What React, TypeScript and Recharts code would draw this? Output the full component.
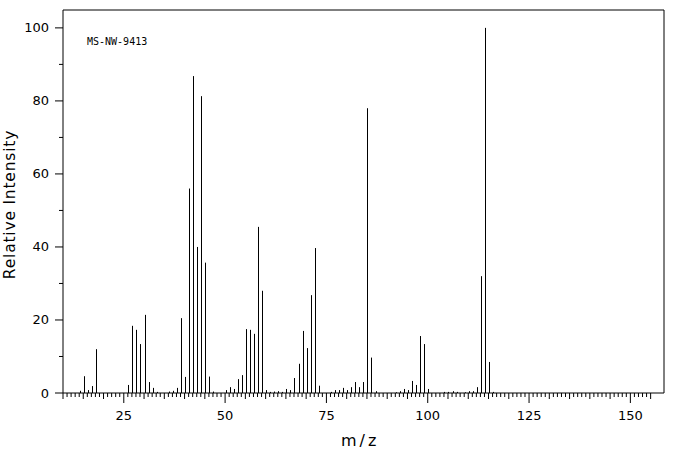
import React from 'react';
import { BarChart, Bar, XAxis, YAxis, ReferenceLine, Label } from 'recharts';

// m/z values and relative intensities
const MZ = [
  14, 15, 16, 17, 18, 26, 27, 28, 29, 30, 31, 32, 33, 36, 37, 38, 39, 40,
  41, 42, 43, 44, 45, 46, 47, 50, 51, 52, 53, 54, 55, 56, 57, 58, 59, 60,
  61, 62, 63, 64, 65, 66, 67, 68, 69, 70, 71, 72, 73, 76, 77, 78, 79, 80,
  81, 82, 83, 84, 85, 86, 87, 92, 93, 94, 95, 96, 97, 98, 99, 100, 104, 105,
  106, 107, 109, 110, 111, 112, 113, 114, 115, 116,
];
const INTENSITY = [
  0.6, 4.6, 0.8, 1.9, 12, 2.2, 18.4, 17.3, 13.4, 21.4, 3, 1.4, 0.3, 0.4, 0.6, 1.4, 20.5, 4.4,
  56, 86.8, 40, 81.3, 35.7, 4.5, 0.4, 0.8, 1.6, 1.1, 3.8, 4.9, 17.5, 17.3, 16.2, 45.5, 28, 0.8,
  0.3, 0.4, 0.5, 0.3, 1.1, 0.8, 4.1, 8, 17, 12.3, 26.8, 39.7, 2, 0.3, 0.8, 0.8, 1.4, 0.8,
  1.6, 3, 1.6, 3, 78, 9.7, 0.5, 0.2, 0.5, 1.1, 0.8, 3.3, 2.2, 15.6, 13.4, 1.1, 0.3, 0.3,
  0.5, 0.3, 0.2, 0.5, 0.5, 1.6, 32, 100, 8.5, 0.3,
];

const X_MIN = 10;
const X_MAX = 158.3;
const Y_MIN = 0;
const Y_MAX = 104.9;

const X_TICKS: number[] = [];
for (let v = 10; v <= 155; v++) X_TICKS.push(v);
const Y_TICKS = [0, 10, 20, 30, 40, 50, 60, 70, 80, 90, 100];

const TITLE = 'MS-NW-9413';
const X_LABEL = 'm/z';
const Y_LABEL = 'Relative Intensity';

const data = MZ.map((m, i) => ({ mz: m, intensity: INTENSITY[i] }));

const FONT = '"DejaVu Sans", sans-serif';

const XTick = (props: any) => {
  const { x, y, payload } = props;
  const v = payload.value;
  const len = v % 25 === 0 ? 10 : v % 5 === 0 ? 6 : 4;
  return (
    <g>
      <line x1={x} x2={x} y1={y} y2={y + len} stroke="#000" strokeWidth={1} />
      {v % 25 === 0 && (
        <text x={x} y={y + 26.5} textAnchor="middle" fontSize={13} fontFamily={FONT} fill="#000">
          {v}
        </text>
      )}
    </g>
  );
};

const YTick = (props: any) => {
  const { x, y, payload } = props;
  const v = payload.value;
  const major = v % 20 === 0;
  return (
    <g>
      <line x1={x - (major ? 8 : 4)} x2={x} y1={y} y2={y} stroke="#000" strokeWidth={1} />
      {major && (
        <text x={x - 14} y={y + 4.5} textAnchor="end" fontSize={13} fontFamily={FONT} fill="#000">
          {v}
        </text>
      )}
    </g>
  );
};

const Stick = (props: any) => {
  const { x, y, width, height } = props;
  if (x == null || y == null) return null;
  const cx = Math.round(x + width / 2) + 0.5;
  return <line x1={cx} x2={cx} y1={y} y2={y + height} stroke="#000" strokeWidth={1} />;
};

export default function App() {
  return (
    <div style={{ position: 'absolute', left: 0, top: 0, background: '#fff' }}>
      <BarChart
        width={676}
        height={455}
        data={data}
        margin={{ top: 10, right: 12, bottom: 0, left: 0 }}
      >
        <XAxis
          dataKey="mz"
          type="number"
          domain={[X_MIN, X_MAX]}
          ticks={X_TICKS}
          interval={0}
          tick={<XTick />}
          tickLine={false}
          tickSize={0}
          tickMargin={0}
          height={62}
          axisLine={{ stroke: '#000', strokeWidth: 1 }}
        >
          <Label
            content={() => (
              <text x={341} y={446} fontSize={16} fontFamily={FONT} letterSpacing={3} fill="#000">
                {X_LABEL}
              </text>
            )}
          />
        </XAxis>
        <YAxis
          type="number"
          domain={[Y_MIN, Y_MAX]}
          ticks={Y_TICKS}
          interval={0}
          tick={<YTick />}
          tickLine={false}
          tickSize={0}
          tickMargin={0}
          width={63}
          axisLine={{ stroke: '#000', strokeWidth: 1 }}
        >
          <Label
            content={() => (
              <text
                x={15}
                y={204.5}
                transform="rotate(-90, 15, 204.5)"
                textAnchor="middle"
                fontSize={15.5}
                letterSpacing={0.8}
                fontFamily={FONT}
                fill="#000"
              >
                {Y_LABEL}
              </text>
            )}
          />
        </YAxis>
        <ReferenceLine y={Y_MAX} stroke="#000" strokeWidth={1}>
          <Label
            content={() => (
              <text x={87} y={44.5} fontSize={10} fontFamily='"DejaVu Sans Mono", monospace' fill="#000">
                {TITLE}
              </text>
            )}
          />
        </ReferenceLine>
        <ReferenceLine x={X_MAX} stroke="#000" strokeWidth={1} />
        <Bar dataKey="intensity" barSize={1} shape={<Stick />} isAnimationActive={false} />
      </BarChart>
    </div>
  );
}
